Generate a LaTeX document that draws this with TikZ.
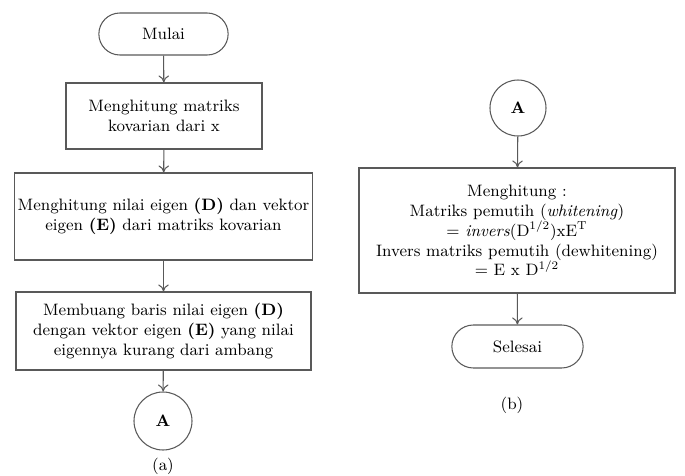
\documentclass[tikz,border=0pt]{standalone}
\usetikzlibrary{shapes.misc,arrows.meta}
\tikzset{
    every node/.style={font=\fontsize{9.4}{11.3}\selectfont},
    proses/.style={draw=black!65, line width=0.6pt, rectangle, align=center, inner sep=2pt},
    terminal/.style={draw=black!65, line width=0.6pt, rounded rectangle, align=center},
    konektor/.style={draw=black!65, line width=0.6pt, circle, minimum size=1.16cm, font=\fontsize{9.4}{11.3}\selectfont\bfseries},
    panah/.style={-{To[length=4pt,width=6pt]}, draw=black!65, line width=0.6pt}
}

\begin{document}
\begin{tikzpicture}
            \useasboundingbox (0,0) rectangle (13.7,-9.52);

            % bagan (a)
            \node[terminal, minimum width=2.82cm, minimum height=0.84cm] (mulai) at (3.27,-0.68) {Mulai};
            \node[proses, minimum width=3.92cm, minimum height=1.32cm] (kovarian) at (3.28,-2.32) {Menghitung matriks\\kovarian dari x};
            \node[proses, minimum width=5.9cm, minimum height=1.74cm] (eigen) at (3.27,-4.33) {Menghitung nilai eigen \textbf{(D)} dan vektor\\eigen \textbf{(E)} dari matriks kovarian};
            \node[proses, minimum width=5.9cm, minimum height=1.56cm] (buang) at (3.27,-6.62) {Membuang baris nilai eigen \textbf{(D)}\\dengan vektor eigen \textbf{(E)} yang nilai\\eigennya kurang dari ambang};
            \node[konektor] (konA) at (3.26,-8.42) {A};
            \node (labela) at (3.26,-9.33) {(a)};

            \draw[panah] (mulai) -- (kovarian);
            \draw[panah] (kovarian) -- (eigen);
            \draw[panah] (eigen) -- (buang);
            \draw[panah] (buang) -- (konA);

            % bagan (b)
            \node[konektor, minimum size=1.12cm] (konB) at (10.36,-2.16) {A};
            \node[proses, minimum width=6.32cm, minimum height=2.5cm] (whiten) at (10.34,-4.61) {Menghitung :\\Matriks pemutih (\textit{whitening})\\= \textit{invers}(D\textsuperscript{1/2})xE\textsuperscript{T}\\Invers matriks pemutih (dewhitening)\\= E x D\textsuperscript{1/2}};
            \node[terminal, minimum width=2.86cm, minimum height=0.86cm] (selesai) at (10.35,-6.93) {Selesai};
            \node (labelb) at (10.24,-8.1) {(b)};

            \draw[panah] (konB) -- (whiten);
            \draw[panah] (whiten) -- (selesai);
\end{tikzpicture}
\end{document}
